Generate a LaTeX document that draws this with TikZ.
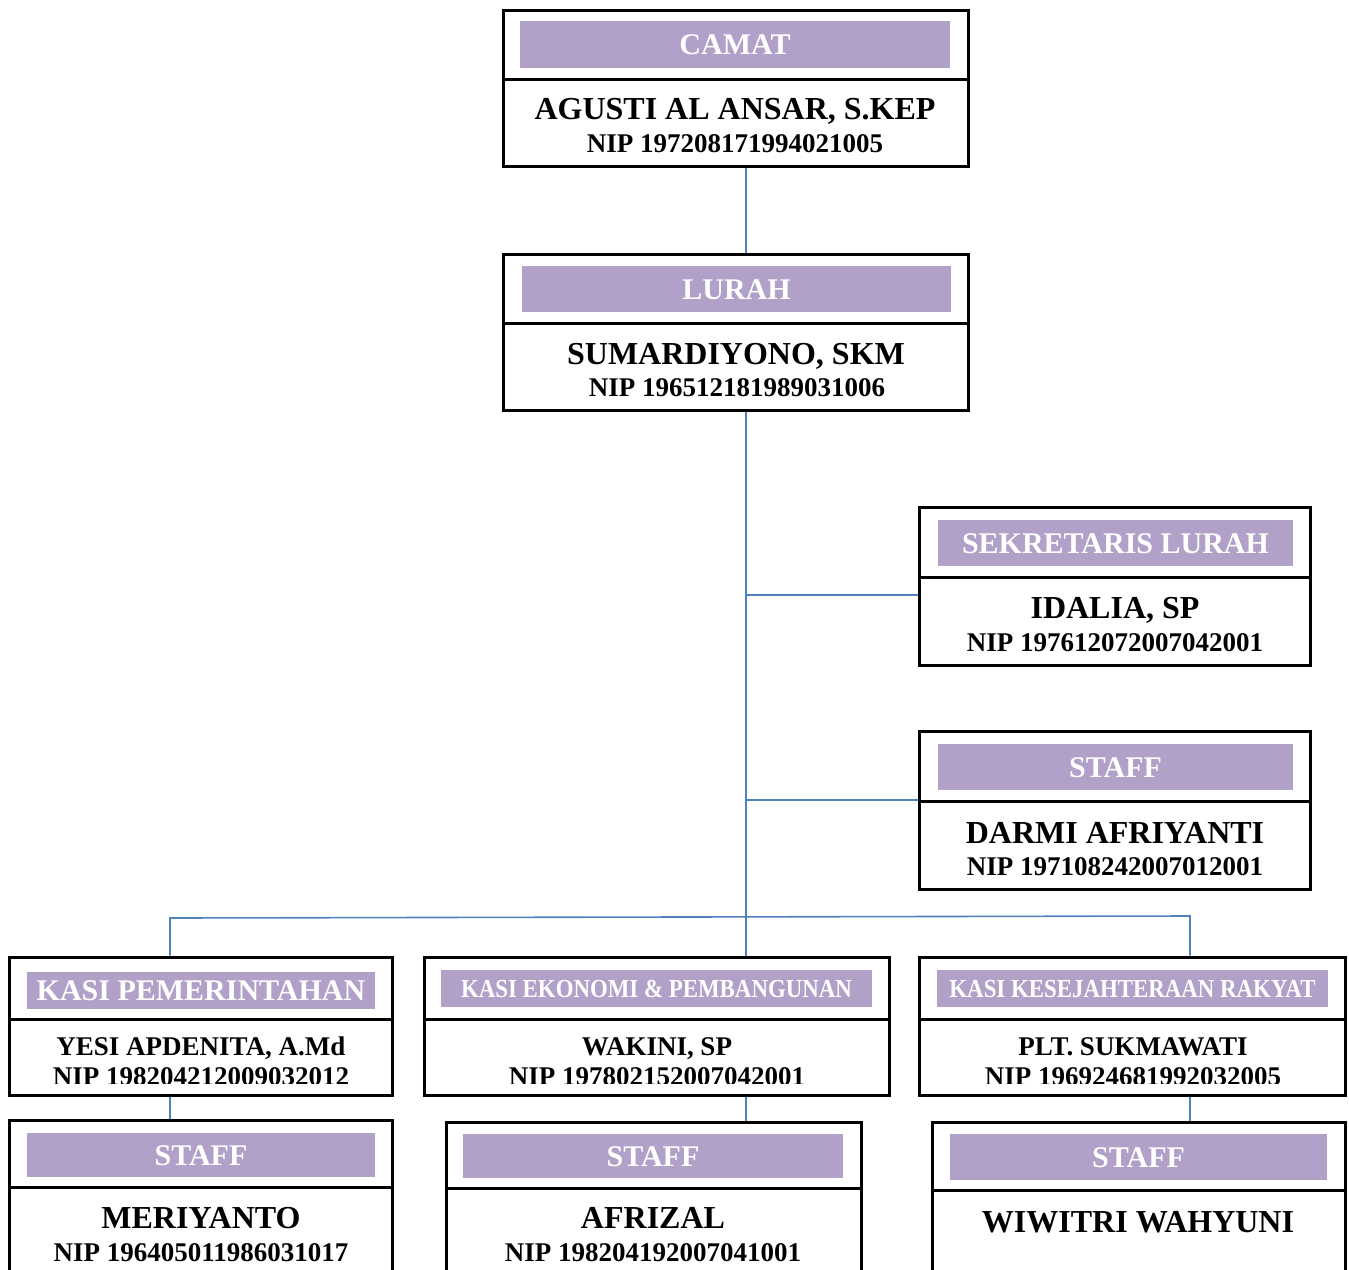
\documentclass[tikz,border=0pt]{standalone}
\usepackage{fontspec}
\setmainfont{Liberation Serif}
\newfontfamily\narrowfont[FakeStretch=0.88]{Liberation Serif}
\definecolor{headpurple}{HTML}{B1A0C7}
\definecolor{linkblue}{HTML}{4F81BD}

\begin{document}
\begin{tikzpicture}[x=1pt, y=-1pt,
        card/.style={draw, line width=3pt, inner sep=0pt},
        head/.style={fill=headpurple, text=white, inner sep=0pt, text height=20pt, text depth=0pt, font=\bfseries\fontsize{30}{36}\selectfont},
        smallhead/.style={head, text height=17pt, font=\narrowfont\bfseries\fontsize{26}{30}\selectfont},
        person/.style={inner sep=0pt, text height=21pt, text depth=0pt, font=\bfseries\fontsize{32}{38}\selectfont},
        nip/.style={person, text height=18pt, font=\bfseries\fontsize{27}{32}\selectfont},
        link/.style={draw=linkblue, line width=1.6pt}]
        \useasboundingbox (0,0) rectangle (1349,1269);
        \clip (0,0) rectangle (1349,1269);

        % Camat
        \node[card, minimum width=465pt, minimum height=156pt] (camat) at (735.5,88) {};
        \node[head, minimum width=430pt, minimum height=47pt] at (735,44.5) {CAMAT};
        \draw[line width=3pt] (503,79) -- (968,79);
        \node[person] at (735,109) {AGUSTI AL ANSAR, S.KEP};
        \node[nip] at (735,143) {NIP 197208171994021005};

        % Lurah
        \node[card, minimum width=465pt, minimum height=156pt] (lurah) at (735.5,332) {};
        \node[head, minimum width=429pt, minimum height=46pt] at (736.5,289) {LURAH};
        \draw[line width=3pt] (503,323) -- (968,323);
        \node[person] at (736,354) {SUMARDIYONO, SKM};
        \node[nip] at (737,387) {NIP 196512181989031006};

        % Sekretaris
        \node[card, minimum width=391pt, minimum height=158pt] (sekre) at (1114.5,586) {};
        \node[head, minimum width=355pt, minimum height=46pt] at (1115.5,543) {SEKRETARIS LURAH};
        \draw[line width=3pt] (919,577) -- (1310,577);
        \node[person] at (1115,608) {IDALIA, SP};
        \node[nip] at (1115,642) {NIP 197612072007042001};

        % Staff lurah
        \node[card, minimum width=391pt, minimum height=158pt] (staffl) at (1114.5,810) {};
        \node[head, minimum width=355pt, minimum height=46pt] at (1115.5,767) {STAFF};
        \draw[line width=3pt] (919,801) -- (1310,801);
        \node[person] at (1115,833) {DARMI AFRIYANTI};
        \node[nip] at (1115,866) {NIP 197108242007012001};

        % Kasi
        \node[card, minimum width=383pt, minimum height=138pt] (kasipem) at (200.5,1026) {};
        \node[head, minimum width=348pt, minimum height=37pt] at (201,990) {KASI PEMERINTAHAN};
        \draw[line width=3pt] (9,1019) -- (392,1019);
        \node[card, minimum width=465pt, minimum height=138pt] (kasiek) at (656.5,1026) {};
        \node[smallhead, minimum width=431pt, minimum height=37pt] at (656.5,988.5) {KASI EKONOMI \& PEMBANGUNAN};
        \draw[line width=3pt] (424,1019) -- (889,1019);
        \node[card, minimum width=426pt, minimum height=138pt] (kasikes) at (1132,1026) {};
        \node[smallhead, minimum width=391pt, minimum height=37pt] at (1132.5,988.5) {KASI KESEJAHTERAAN RAKYAT};
        \draw[line width=3pt] (919,1019) -- (1345,1019);
        \begin{scope}
            \clip (0,1021) rectangle (1349,1083);
            \node[nip] at (201,1046) {YESI APDENITA, A.Md};
            \node[nip] at (201,1076) {NIP 198204212009032012};
            \node[nip] at (657,1046) {WAKINI, SP};
            \node[nip] at (657,1076) {NIP 197802152007042001};
            \node[nip] at (1133,1046) {PLT. SUKMAWATI};
            \node[nip] at (1133,1076) {NIP 196924681992032005};
        \end{scope}

        % Staff kasi
        \node[card, minimum width=383pt, minimum height=180pt] (staffa) at (200.5,1210) {};
        \node[head, minimum width=348pt, minimum height=44pt] at (201,1155) {STAFF};
        \draw[line width=3pt] (9,1187) -- (392,1187);
        \node[person] at (201,1218) {MERIYANTO};
        \node[nip] at (201,1252) {NIP 196405011986031017};
        \node[card, minimum width=415pt, minimum height=178pt] (staffb) at (653.5,1211) {};
        \node[head, minimum width=380pt, minimum height=44pt] at (653,1156) {STAFF};
        \draw[line width=3pt] (446,1188) -- (861,1188);
        \node[person] at (653,1218) {AFRIZAL};
        \node[nip] at (653,1252) {NIP 198204192007041001};
        \node[card, minimum width=413pt, minimum height=178pt] (staffc) at (1138.5,1211) {};
        \node[head, minimum width=377pt, minimum height=46pt] at (1138.5,1157) {STAFF};
        \draw[line width=3pt] (932,1190) -- (1345,1190);
        \node[person] at (1138,1222) {WIWITRI WAHYUNI};

        % Links
        \coordinate (trunk) at (746,0);
        \coordinate (b1) at (746,595);
        \coordinate (b2) at (746,800);
        \coordinate (bl) at (170,918);
        \coordinate (br) at (1190,916);
        \draw[link] (camat.south -| trunk) -- (lurah.north -| trunk);
        \draw[link] (lurah.south -| trunk) -- (kasiek.north -| trunk);
        \draw[link] (b1) -- (b1 -| sekre.west);
        \draw[link] (b2) -- (b2 -| staffl.west);
        \draw[link] (kasipem.north -| bl) -- (bl) -- (br) -- (kasikes.north -| br);
        \draw[link] (kasipem.south -| bl) -- (staffa.north -| bl);
        \draw[link] (kasiek.south -| trunk) -- (staffb.north -| trunk);
        \draw[link] (kasikes.south -| br) -- (staffc.north -| br);
    \end{tikzpicture}
\end{document}
